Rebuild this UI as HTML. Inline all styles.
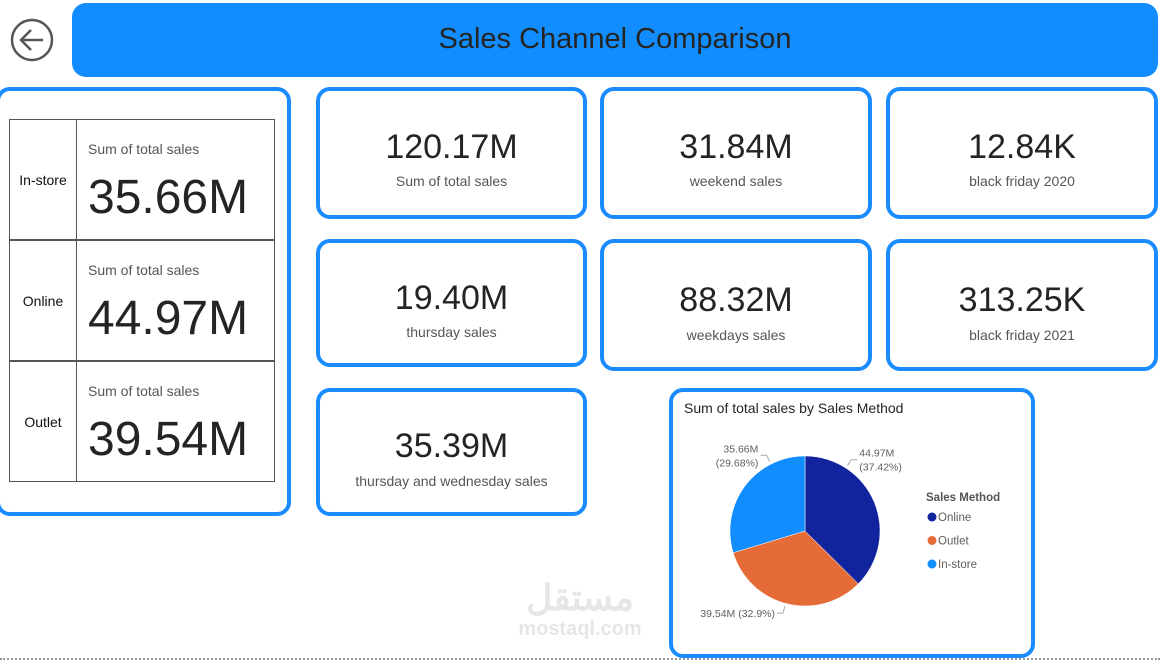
<!DOCTYPE html>
<html><head><meta charset="utf-8"><style>
*{box-sizing:border-box;margin:0;padding:0}
body{width:1160px;height:660px;background:#fff;position:relative;overflow:hidden;font-family:"Liberation Sans","Noto Sans CJK SC",sans-serif;color:#252423}
.abs{position:absolute}
.card{position:absolute;border:4px solid #1a8cff;border-radius:14px;background:#fff}
.kv{position:absolute;left:0;right:0;text-align:center;font-size:34px}
.kl{position:absolute;left:0;right:0;text-align:center;font-size:14px;color:#555}
.row{position:absolute;left:9px;width:266px;height:121px;border:1px solid #555}
.rl{position:absolute;left:0;width:67px;top:0;bottom:0;border-right:1px solid #555;font-size:14px;display:flex;align-items:center;justify-content:center;color:#111}
.rs{position:absolute;left:78px;top:21px;font-size:14px;color:#555}
.rv{position:absolute;left:78px;top:50px;font-size:48px}
</style></head><body>
<svg class="abs" style="left:9px;top:17px" width="46" height="46"><circle cx="23" cy="23" r="20" fill="none" stroke="#555" stroke-width="2.5"/><path d="M34 23H12M22 13L12 23L22 33" fill="none" stroke="#555" stroke-width="2.5"/></svg>
<div class="abs" style="left:72px;top:3px;width:1086px;height:74px;background:#118dff;border-radius:14px;text-align:center;line-height:72px;font-size:29px;color:#252423">Sales Channel Comparison</div>

<div class="card" style="left:-4px;top:87px;width:295px;height:429px"></div>
<div class="row" style="top:119px"><div class="rl">In-store</div><div class="rs">Sum of total sales</div><div class="rv">35.66M</div></div>
<div class="row" style="top:240px"><div class="rl">Online</div><div class="rs">Sum of total sales</div><div class="rv">44.97M</div></div>
<div class="row" style="top:361px"><div class="rl">Outlet</div><div class="rs">Sum of total sales</div><div class="rv">39.54M</div></div>

<div class="card" style="left:316px;top:87px;width:271px;height:132px"><div class="kv" style="top:37px">120.17M</div><div class="kl" style="top:82px">Sum of total sales</div></div>
<div class="card" style="left:600px;top:87px;width:272px;height:132px"><div class="kv" style="top:37px">31.84M</div><div class="kl" style="top:82px">weekend sales</div></div>
<div class="card" style="left:886px;top:87px;width:272px;height:132px"><div class="kv" style="top:37px">12.84K</div><div class="kl" style="top:82px">black friday 2020</div></div>
<div class="card" style="left:316px;top:239px;width:271px;height:128px"><div class="kv" style="top:36px">19.40M</div><div class="kl" style="top:81px">thursday sales</div></div>
<div class="card" style="left:600px;top:239px;width:272px;height:132px"><div class="kv" style="top:38px">88.32M</div><div class="kl" style="top:84px">weekdays sales</div></div>
<div class="card" style="left:886px;top:239px;width:272px;height:132px"><div class="kv" style="top:38px">313.25K</div><div class="kl" style="top:84px">black friday 2021</div></div>
<div class="card" style="left:316px;top:388px;width:271px;height:128px"><div class="kv" style="top:35px">35.39M</div><div class="kl" style="top:81px">thursday and wednesday sales</div></div>

<div class="abs" style="left:505px;top:578px;width:150px;text-align:center;color:#e6e6e6;font-weight:bold"><div style="font-size:36px;line-height:40px">مستقل</div><div style="font-size:20px">mostaql.com</div></div>

<div class="card" style="left:669px;top:388px;width:366px;height:270px"></div>
<div class="abs" style="left:684px;top:400px;font-size:14px;color:#252423">Sum of total sales by Sales Method</div>
<svg id="pie" class="abs" style="left:0;top:0" width="1160" height="660"></svg>
<div class="abs" style="left:0;right:0;bottom:0;border-top:2px dotted #999;height:2px"></div>
<script>
const categories=["Online","Outlet","In-store"];
const values=[44.97,39.54,35.66];
const labels=["44.97M\n(37.42%)","39.54M (32.9%)","35.66M\n(29.68%)"];
const colors=["#12239e","#e66c37","#118dff"];
const leaderAngles=[-57,105,-117];
const svg=document.getElementById('pie');const NS="http://www.w3.org/2000/svg";
const cx=805,cy=531,r=75;const tot=values.reduce((a,b)=>a+b,0);
let a0=-Math.PI/2;
function pt(a,rr){return [cx+rr*Math.cos(a),cy+rr*Math.sin(a)];}
values.forEach((v,i)=>{
 const a1=a0+v/tot*2*Math.PI;const [x0,y0]=pt(a0,r),[x1,y1]=pt(a1,r);
 const p=document.createElementNS(NS,'path');
 p.setAttribute('d',`M${cx},${cy}L${x0},${y0}A${r},${r} 0 ${a1-a0>Math.PI?1:0} 1 ${x1},${y1}Z`);
 p.setAttribute('fill',colors[i]);p.setAttribute('stroke','#fff');p.setAttribute('stroke-width','0.5');
 
 
 svg.appendChild(p);
 const am=leaderAngles[i]*Math.PI/180;const [lx,ly]=pt(am,r+3);const [ex,ey]=pt(am,r+10);
 const right=Math.cos(am)>=0;const hx=ex+(right?6:-6);
 const l=document.createElementNS(NS,'polyline');
 l.setAttribute('points',`${lx},${ly} ${ex},${ey} ${hx},${ey}`);l.setAttribute('fill','none');l.setAttribute('stroke','#aaa');
 
 
 svg.appendChild(l);
 const lines=labels[i].split('\n');
 lines.forEach((s,k)=>{const t=document.createElementNS(NS,'text');
  t.setAttribute('x',hx+(right?2:-2));t.setAttribute('y',ey+4+(k-(lines.length-1)/2)*14);
  t.setAttribute('text-anchor',right?'start':'end');t.setAttribute('font-size','10.5');t.setAttribute('fill','#605e5c');
  t.setAttribute('font-family','Liberation Sans, sans-serif');t.textContent=s;
  
  
  svg.appendChild(t);});
 a0=a1;
});
const lt=document.createElementNS(NS,'text');lt.setAttribute('x',926);lt.setAttribute('y',501);lt.setAttribute('font-size','11.5');lt.setAttribute('font-weight','bold');lt.setAttribute('fill','#555');lt.setAttribute('font-family','Liberation Sans, sans-serif');lt.textContent='Sales Method';


svg.appendChild(lt);
categories.forEach((c,i)=>{const y=517+i*23.5;
 const g=document.createElementNS(NS,'g');
 
 
 const ci=document.createElementNS(NS,'circle');ci.setAttribute('cx',932);ci.setAttribute('cy',y);ci.setAttribute('r',4.5);ci.setAttribute('fill',colors[i]);g.appendChild(ci);
 const t=document.createElementNS(NS,'text');t.setAttribute('x',938);t.setAttribute('y',y+4);t.setAttribute('font-size','11.5');t.setAttribute('fill','#605e5c');t.setAttribute('font-family','Liberation Sans, sans-serif');t.textContent=c;g.appendChild(t);
 svg.appendChild(g);});
</script>
</body></html>
